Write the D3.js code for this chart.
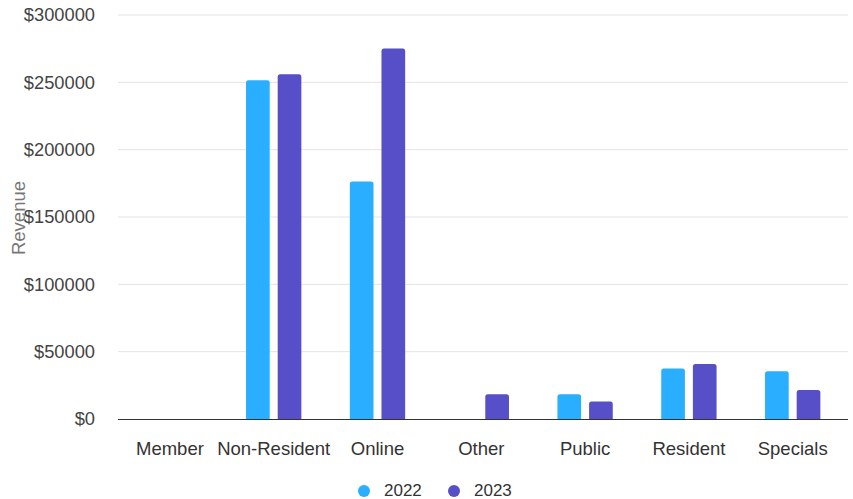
<!DOCTYPE html>
<html>
<head>
<meta charset="utf-8">
<script src="https://cdn.jsdelivr.net/npm/d3@7"></script>
<style>
  html, body { margin: 0; padding: 0; background: #fff; }
  svg { display: block; font-family: "Liberation Sans", Arial, sans-serif; }
</style>
</head>
<body>
<svg id="chart" width="853" height="499"></svg>
<script>
// Revenue by ticket category, 2022 vs 2023
const categories = ["Member", "Non-Resident", "Online", "Other", "Public", "Resident", "Specials"];
const seriesNames = ["2022", "2023"];
const revenue2022 = [0, 251500, 176300, 0, 18400, 37500, 35500];
const revenue2023 = [0, 256000, 275100, 18400, 12950, 40900, 21600];
const yTicks = [0, 50000, 100000, 150000, 200000, 250000, 300000];
const colors = ["#2aaeff", "#564fc7"];

const svg = d3.select("#chart");
const margin = { top: 15, right: 5, bottom: 80, left: 118 };
const W = 853, H = 499;
const innerW = W - margin.left - margin.right;
const innerH = H - margin.top - margin.bottom;

const g = svg.append("g").attr("transform", `translate(${margin.left},${margin.top})`);

const x0 = d3.scaleBand().domain(categories).range([0, 726.6]).paddingInner(0.467).paddingOuter(0.2335);
const x1 = d3.scaleBand().domain(seriesNames).range([0, x0.bandwidth()]).paddingInner(0.252).paddingOuter(0);
const y = d3.scaleLinear().domain([0, 300000]).range([innerH, 0]);

// gridlines
g.append("g")
  .selectAll("line")
  .data(yTicks.filter(t => t > 0))
  .join("line")
  .attr("x1", 0).attr("x2", innerW)
  .attr("y1", d => y(d)).attr("y2", d => y(d))
  .attr("stroke", "#e3e3e3").attr("stroke-width", 1);

// y axis labels
const yAxis = g.append("g")
  .call(d3.axisLeft(y).tickValues(yTicks).tickFormat(d => "$" + d).tickSize(0).tickPadding(23));
yAxis.select(".domain").remove();
yAxis.selectAll("text")
  .attr("font-size", 18.3).attr("fill", "#444")
  .attr("font-family", "'Liberation Sans', Arial, sans-serif");

// bars
const data = categories.map((c, i) => ({ cat: c, vals: [revenue2022[i], revenue2023[i]] }));
const r = 2.5;
function barPath(x, yTop, w, yBase) {
  const h = yBase - yTop;
  if (h <= 0) return "";
  const rr = Math.min(r, h, w / 2);
  return `M${x},${yBase}V${yTop + rr}Q${x},${yTop} ${x + rr},${yTop}H${x + w - rr}Q${x + w},${yTop} ${x + w},${yTop + rr}V${yBase}Z`;
}
g.append("g")
  .selectAll("g")
  .data(data)
  .join("g")
  .attr("transform", d => `translate(${x0(d.cat)},0)`)
  .selectAll("path")
  .data(d => d.vals.map((v, k) => ({ key: seriesNames[k], v, k })))
  .join("path")
  .attr("d", d => barPath(x1(d.key), y(d.v), x1.bandwidth(), y(0)))
  .attr("fill", d => colors[d.k]);

// baseline
g.append("line")
  .attr("x1", 0).attr("x2", innerW)
  .attr("y1", y(0) + 0.5).attr("y2", y(0) + 0.5)
  .attr("stroke", "#333").attr("stroke-width", 1.2);

// x axis labels
const xAxis = g.append("g")
  .attr("transform", `translate(0,${innerH})`)
  .call(d3.axisBottom(x0).tickSize(0).tickPadding(23));
xAxis.select(".domain").remove();
xAxis.selectAll("text")
  .attr("font-size", 18.5).attr("fill", "#333")
  .attr("font-family", "'Liberation Sans', Arial, sans-serif");

// y axis title
svg.append("text")
  .attr("transform", `translate(25,${margin.top + innerH / 2 + 1}) rotate(-90)`)
  .attr("text-anchor", "middle")
  .attr("font-size", 18.5)
  .attr("fill", "#777")
  .text("Revenue");

// legend
const legend = svg.append("g").attr("transform", `translate(364,490)`);
seriesNames.forEach((s, i) => {
  const lg = legend.append("g").attr("transform", `translate(${i * 90},0)`);
  lg.append("circle").attr("r", 6).attr("cx", 0).attr("cy", 1).attr("fill", colors[i]);
  lg.append("text").attr("x", 20).attr("y", 0).attr("dy", "0.35em")
    .attr("font-size", 17).attr("fill", "#333").text(s);
});
</script>
</body>
</html>
